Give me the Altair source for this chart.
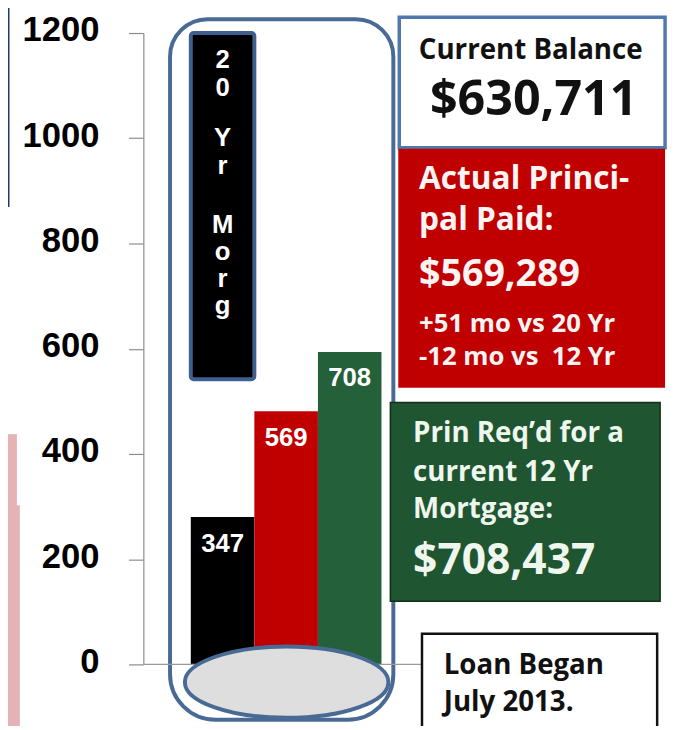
import altair as alt
import pandas as pd

# ---------------- data ----------------
categories = ["20 Yr Mortgage", "Actual Principal", "12 Yr Required"]
bar_values = [280, 481, 594]
bar_labels = ["347", "569", "708"]
bar_colors = ["#000000", "#c00000", "#24603a"]

mortgage_low = [542]
mortgage_high = [1200]
mortgage_words = [["2", "0"], ["Y", "r"], ["M", "o", "r", "g"]]

y_ticks = [0, 200, 400, 600, 800, 1000, 1200]

balance_title = "Current Balance"
balance_value = "$630,711"
paid_lines = ["Actual Princi-", "pal Paid:"]
paid_value = "$569,289"
paid_notes = ["+51 mo vs 20 Yr", "-12 mo vs \u00a012 Yr"]
req_lines = ["Prin Req\u2019d for a", "current 12 Yr", "Mortgage:"]
req_value = "$708,437"
loan_lines = ["Loan Began", "July 2013."]

# ---------------- tables ----------------
bars = pd.DataFrame({"category": categories, "value": bar_values, "label": bar_labels})
mort = pd.DataFrame({"category": categories[:1], "low": mortgage_low, "high": mortgage_high})
one = alt.Data(values=[{"k": 1}])

W, H = 533, 639
TUBE = "#4a6a96"
SANS = "Open Sans"

yscale = alt.Scale(domain=[0, 1200], nice=False, zero=True)
yaxis = alt.Axis(values=y_ticks, format="d", tickSize=15, labelPadding=30, labelFont="Liberation Sans",
                 labelFontSize=35, labelFontWeight="bold", labelColor="#000000", labelOffset=-3,
                 domainColor="#8c8c8c", tickColor="#8c8c8c", domainWidth=1.2, tickWidth=1.2,
                 grid=False, title=None, labelOverlap=False)
xscale = alt.Scale(domain=categories, range=[48, 241], paddingInner=0, paddingOuter=0)


def Y(field):
    return alt.Y(field, scale=yscale, axis=yaxis)


def X():
    return alt.X("category:N", scale=xscale, axis=None)


def box(x1, x2, y1, y2, **kw):
    return alt.Chart(one).mark_rect(**kw).encode(
        x=alt.value(x1), x2=alt.value(x2), y=alt.value(y1), y2=alt.value(y2))


def txt(s, x, y, size, color, align="left", font=SANS):
    return alt.Chart(one).mark_text(align=align, baseline="alphabetic", font=font,
                                    fontWeight="bold", fontSize=size, color=color).encode(
        x=alt.value(x), y=alt.value(y), text=alt.value(s))


layers = []
# cropped neighbours at the left edge
layers.append(box(-137, -128, 406, 480, color="#e5b2b5"))
layers.append(box(-137, -125, 478, 720, color="#e5b2b5"))
layers.append(box(-137, -135.5, -30, 176, color="#1f3864"))

# tube
layers.append(box(27, 253, -14, 695, fill="#ffffff", stroke=TUBE, strokeWidth=4,
                  cornerRadiusTopLeft=38, cornerRadiusTopRight=38,
                  cornerRadiusBottomLeft=46, cornerRadiusBottomRight=46))

# bars
layers.append(alt.Chart(bars).mark_bar(opacity=1).encode(
    x=X(), y=Y("value:Q"),
    color=alt.Color("category:N", scale=alt.Scale(domain=categories, range=bar_colors), legend=None)))
layers.append(alt.Chart(bars).mark_text(font="Liberation Sans", fontWeight="bold", fontSize=26,
                                        color="#ffffff", baseline="middle", dy=27).encode(
    x=X(), y=Y("value:Q"), text="label:N"))

# 20 yr mortgage floating bar
layers.append(alt.Chart(mort).mark_bar(color="#000000", stroke="#3f5f8f", strokeWidth=4,
                                       cornerRadius=3).encode(
    x=X(), y=Y("low:Q"), y2="high:Q"))
for word, ytop, lh in zip(mortgage_words, [14, 93, 181], [29, 29, 27.5]):
    layers.append(alt.Chart(mort).mark_text(font="Liberation Sans", fontWeight="bold", fontSize=26,
                                            color="#ffffff", baseline="top", lineHeight=lh).encode(
        x=X(), y=alt.value(ytop), text=alt.value(word)))

# zero line
layers.append(alt.Chart(one).mark_rule(color="#9a9a9a", strokeWidth=1.2).encode(
    x=alt.value(0), x2=alt.value(283), y=alt.datum(0, scale=yscale)))

# marble base
ellipse = "M-1,0A1,0.35,0,1,1,1,0A1,0.35,0,1,1,-1,0Z"
layers.append(alt.Chart(one).mark_point(shape=ellipse, size=206 * 206, filled=True,
                                        fill="#dedede", stroke=TUBE, strokeWidth=4, opacity=1).encode(
    x=alt.value(145), y=alt.value(657)))

# right-hand boxes
layers.append(box(259, 528, -16, 116, fill="#ffffff", stroke="#4f78ad", strokeWidth=3.5))
layers.append(txt(balance_title, 392, 26, 28, "#111111", align="center"))
layers.append(txt(balance_value, 395, 83, 49, "#111111", align="center"))

layers.append(box(258, 528, 117, 359, color="#c00000"))
layers.append(txt(paid_lines[0], 279, 158, 32, "#fff4f4"))
layers.append(txt(paid_lines[1], 279, 199, 32, "#fff4f4"))
layers.append(txt(paid_value, 279, 256, 38, "#fff4f4"))
layers.append(txt(paid_notes[0], 279, 303, 26, "#fff4f4"))
layers.append(txt(paid_notes[1], 279, 336, 26, "#fff4f4"))

layers.append(box(250, 523, 374, 575, fill="#1f5530", stroke="#0f2f18", strokeWidth=1.5))
layers.append(txt(req_lines[0], 273, 414, 28, "#eef6ee"))
layers.append(txt(req_lines[1], 273, 453, 28, "#eef6ee"))
layers.append(txt(req_lines[2], 273, 491, 28, "#eef6ee"))
layers.append(txt(req_value, 273, 548, 43, "#eef6ee"))

layers.append(box(282, 520, 608, 712, fill="#ffffff", stroke="#111111", strokeWidth=2.5))
layers.append(txt(loan_lines[0], 304, 649, 28, "#111111"))
layers.append(txt(loan_lines[1], 304, 686, 28, "#111111"))

chart = alt.layer(*layers).properties(
    width=W, height=H,
    autosize=alt.AutoSizeParams(type="none"),
    padding={"left": 137, "top": 21, "right": 0, "bottom": 58},
    background="#ffffff",
).configure_view(stroke=None)

chart.save("out.html", embed_options={"renderer": "svg", "actions": False})
